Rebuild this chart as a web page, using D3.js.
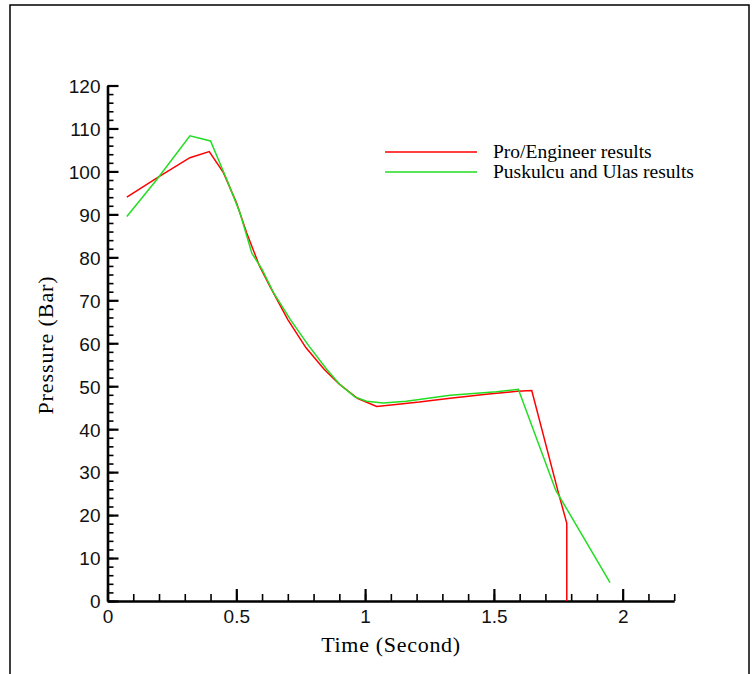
<!DOCTYPE html>
<html>
<head>
<meta charset="utf-8">
<script src="https://cdn.jsdelivr.net/npm/d3@7"></script>
<style>
  body { margin: 0; background: #fff; }
  svg { display: block; }
</style>
</head>
<body>
<svg id="chart" width="755" height="674"></svg>
<script>
// Pro/Engineer results (red)
var proTime     = [0.075, 0.2, 0.32, 0.395, 0.45, 0.5, 0.54, 0.59, 0.63, 0.7, 0.77, 0.84, 0.9, 0.97, 1.045, 1.11, 1.21, 1.33, 1.47, 1.59, 1.647, 1.75, 1.783, 1.783];
var proPressure = [94, 98.8, 103.2, 104.6, 99.7, 92.8, 85.7, 78, 73.3, 65.5, 59, 54, 50.5, 47.2, 45.3, 45.7, 46.3, 47.2, 48.1, 48.8, 49, 25.3, 18.1, 0];

// Puskulcu and Ulas results (green)
var pusTime     = [0.075, 0.19, 0.32, 0.4, 0.463, 0.514, 0.56, 0.6, 0.645, 0.71, 0.78, 0.85, 0.9, 0.96, 1.006, 1.07, 1.16, 1.33, 1.51, 1.595, 1.74, 1.951];
var pusPressure = [89.5, 98, 108.3, 107.1, 98.1, 90.4, 81, 77.2, 71.7, 65.5, 59.5, 54, 50.5, 47.5, 46.5, 46.1, 46.5, 47.9, 48.7, 49.3, 25.8, 4.3];

var xMajor = [0, 0.5, 1, 1.5, 2];
var yMajor = [0, 10, 20, 30, 40, 50, 60, 70, 80, 90, 100, 110, 120];
var seriesNames = ["Pro/Engineer results", "Puskulcu and Ulas results"];
var seriesColors = ["#ff0000", "#22dd22"];

var svg = d3.select("#chart");

// outer frame
svg.append("rect")
    .attr("x", 10)
    .attr("y", 5)
    .attr("width", 739)
    .attr("height", 700)
    .style("fill", "none")
    .style("stroke", "#000")
    .style("stroke-width", 1.5);

var x = d3.scaleLinear().domain([0, 2.2]).range([107.5, 674.2]);
var y = d3.scaleLinear().domain([0, 120]).range([601, 85.5]);

var xMinor = d3.range(0, 2.21, 0.1).map(function(d){ return +d.toFixed(1); });
var yMinor = d3.range(0, 121, 2);

var xFmt = function(d){ return d === 0 ? "0" : d3.format("~g")(d); };

// minor ticks
svg.append("g")
    .attr("transform", "translate(0," + y(0) + ")")
    .call(d3.axisBottom(x).tickValues(xMinor).tickSizeInner(-7).tickSizeOuter(0).tickFormat(""))
    .call(function(g){ g.select(".domain").remove(); })
    .selectAll("line").style("stroke-width", 1.6);

svg.append("g")
    .attr("transform", "translate(" + x(0) + ",0)")
    .call(d3.axisLeft(y).tickValues(yMinor).tickSizeInner(-6).tickSizeOuter(0).tickFormat(""))
    .call(function(g){ g.select(".domain").remove(); })
    .selectAll("line").style("stroke-width", 1.6);

// major ticks + labels
var xAxis = svg.append("g")
    .attr("transform", "translate(0," + y(0) + ")")
    .call(d3.axisBottom(x).tickValues(xMajor).tickSizeInner(-12).tickSizeOuter(0).tickPadding(9).tickFormat(xFmt));

var yAxis = svg.append("g")
    .attr("transform", "translate(" + x(0) + ",0)")
    .call(d3.axisLeft(y).tickValues(yMajor).tickSizeInner(-11).tickSizeOuter(0).tickPadding(7));

[xAxis, yAxis].forEach(function(g){
    g.attr("font-family", "'Liberation Sans', Arial, sans-serif")
     .attr("font-size", 19);
    g.select(".domain").style("stroke-width", 2.6);
    g.selectAll(".tick line").style("stroke-width", 2.2);
    g.selectAll(".tick text").style("fill", "#111");
});
yAxis.selectAll(".tick text").attr("dy", "0.36em");

// axis titles
svg.append("text")
    .attr("x", 391)
    .attr("y", 652)
    .attr("text-anchor", "middle")
    .style("font-family", "'Liberation Serif', 'Times New Roman', serif")
    .style("font-size", "22px")
    .style("letter-spacing", "0.7px")
    .text("Time (Second)");

svg.append("text")
    .attr("transform", "translate(53,345) rotate(-90)")
    .attr("text-anchor", "middle")
    .style("font-family", "'Liberation Serif', 'Times New Roman', serif")
    .style("font-size", "22px")
    .style("letter-spacing", "0.9px")
    .text("Pressure (Bar)");

// curves
var line = d3.line()
    .x(function(d){ return x(d[0]); })
    .y(function(d){ return y(d[1]); });

var proData = proTime.map(function(t, i){ return [t, proPressure[i]]; });
var pusData = pusTime.map(function(t, i){ return [t, pusPressure[i]]; });

[proData, pusData].forEach(function(data, i){
    svg.append("path")
        .datum(data)
        .attr("d", line)
        .style("fill", "none")
        .style("stroke", seriesColors[i])
        .style("stroke-width", 1.5)
        .style("stroke-linejoin", "miter");
});

// legend
var legend = svg.append("g");
seriesNames.forEach(function(name, i){
    var ly = 152 + i * 20;
    legend.append("line")
        .attr("x1", 385)
        .attr("x2", 477)
        .attr("y1", ly)
        .attr("y2", ly)
        .style("stroke", seriesColors[i])
        .style("stroke-width", 1.5);
    legend.append("text")
        .attr("x", 493)
        .attr("y", ly + 6)
        .style("font-family", "'Liberation Serif', 'Times New Roman', serif")
        .style("font-size", "19.5px")
        .text(name);
});
</script>
</body>
</html>
